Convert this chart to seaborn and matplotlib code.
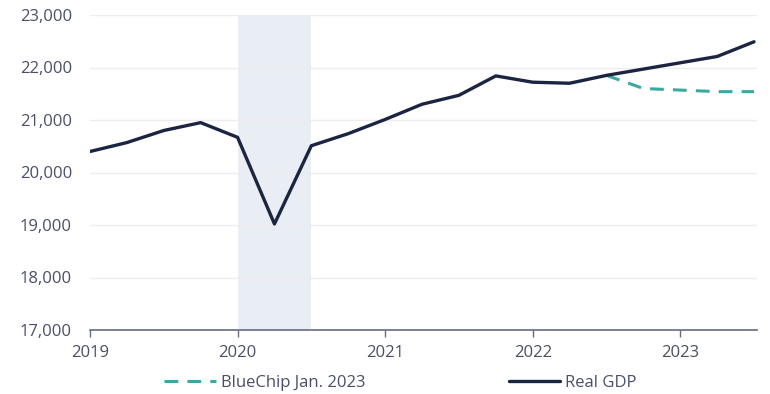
import matplotlib
matplotlib.use("Agg")
import matplotlib.pyplot as plt
import seaborn as sns
import pandas as pd
import numpy as np

quarters = [2019.0, 2019.25, 2019.5, 2019.75, 2020.0, 2020.25, 2020.5, 2020.75,
            2021.0, 2021.25, 2021.5, 2021.75, 2022.0, 2022.25, 2022.5, 2022.75,
            2023.0, 2023.25, 2023.5]
real_gdp = [20400, 20570, 20800, 20950, 20670, 19020, 20510, 20740,
            21010, 21300, 21470, 21840, 21720, 21700, 21850, 21970,
            22090, 22210, 22490]

bluechip_quarters = [2022.5, 2022.75, 2023.0, 2023.25, 2023.5]
bluechip = [21850, 21600, 21570, 21540, 21540]

recession = [2020.0, 2020.5]
year_ticks = [2019, 2020, 2021, 2022, 2023]
y_ticks = [17000, 18000, 19000, 20000, 21000, 22000, 23000]

sns.set_theme(style="white")
plt.rcParams['font.family'] = ['Open Sans', 'DejaVu Sans']

navy = "#1b2440"
teal = "#3aa9a0"
label_col = "#4a4e68"
axis_col = "#666b82"

df_gdp = pd.DataFrame({"x": quarters, "y": real_gdp})
df_bc = pd.DataFrame({"x": bluechip_quarters, "y": bluechip})

fig = plt.figure(figsize=(7.7, 3.94), dpi=100)
ax = fig.add_axes([90/770, 1-330/394, (757-90)/770, (330-15)/394])

ax.axvspan(recession[0], recession[1], color="#e9eef4", zorder=0, lw=0)

for yt in y_ticks[1:]:
    ax.axhline(yt, color="#ededf0", lw=1.0, zorder=0.5)

sns.lineplot(data=df_bc, x="x", y="y", ax=ax, color=teal, lw=2.2,
             linestyle=(0, (4.5, 3)), label="BlueChip Jan. 2023", zorder=2)
sns.lineplot(data=df_gdp, x="x", y="y", ax=ax, color=navy, lw=2.4,
             label="Real GDP", zorder=3)

ax.set_xlim(2019, 2023.52)
ax.set_ylim(17000, 23000)
ax.set_xticks(year_ticks)
ax.set_xticklabels([str(y) for y in year_ticks])
ax.set_yticks(y_ticks)
ax.set_yticklabels([f"{v:,}" for v in y_ticks])
ax.set_xlabel("")
ax.set_ylabel("")

for s in ["top", "right", "left"]:
    ax.spines[s].set_visible(False)
ax.spines["bottom"].set_color(axis_col)
ax.spines["bottom"].set_linewidth(1.2)

ax.tick_params(axis="x", bottom=True, length=5, width=1, color=axis_col,
               labelsize=12, labelcolor=label_col, pad=6)
ax.tick_params(axis="y", left=False, length=0, labelsize=12, labelcolor=label_col, pad=13)
ax.grid(False)

ax.get_legend().remove()
handles, labels = ax.get_legend_handles_labels()
fig.legend(handles, labels, loc="center", bbox_to_anchor=(0.52, 0.028), ncol=2,
           frameon=False, fontsize=12, labelcolor=label_col,
           columnspacing=8.6, handlelength=3.1, handletextpad=0.3)

fig.savefig("out.png", dpi=100)
